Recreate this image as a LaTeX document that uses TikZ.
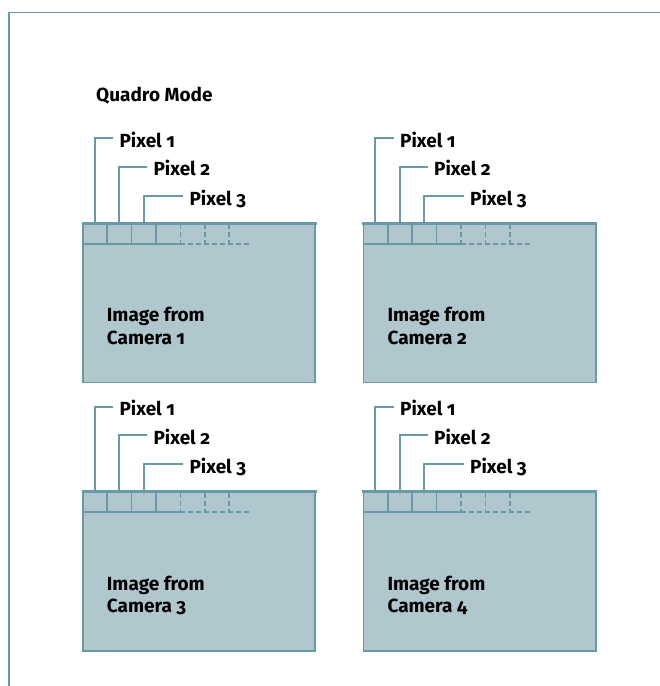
\documentclass[tikz,border=0pt]{standalone}
\usepackage{fontspec}
\setmainfont{Fira Sans}[Numbers=OldStyle]
\usepackage{xcolor}
\usepackage{tikz}
\usetikzlibrary{positioning}
\definecolor{frameblue}{RGB}{104,153,166}
\definecolor{imgfill}{RGB}{175,199,205}

\begin{document}
\begin{tikzpicture}[x=1pt, y=-1pt,
  frameline/.style={draw=frameblue, line width=1.8pt},
  imgbox/.style={fill=imgfill, draw=frameblue, line width=1.6pt},
  pixline/.style={draw=frameblue, line width=1.6pt},
  pixdash/.style={pixline, dash pattern=on 5pt off 3pt},
  leader/.style={draw=frameblue, line width=2pt},
  pixtext/.style={font=\fontsize{19}{22}\bfseries\selectfont, inner sep=0pt, anchor=base west},
  imgtext/.style={font=\fontsize{19}{22.3}\bfseries\selectfont, inner sep=0pt, anchor=base west, align=left}]
\useasboundingbox (0,0) rectangle (660,686);
% Frame
\draw[frameline] (9,686) -- (9,12.5) -- (660,12.5);
\node[pixtext] (title) at (96,101.5) {Quadro Mode};
% Panels
\foreach \i/\x/\y in {1/82.7/223.3, 2/363.3/223.3, 3/82.7/491.7, 4/363.3/491.7} {
  \draw[imgbox] (\x,\y) rectangle ++(232.5,159.3);
  \draw[frameblue, line width=2.6pt] (\x-1,\y) -- ++(235,0);
  % Pixel row
  \draw[pixline] (\x,\y+20.4) -- ++(97.5,0);
  \draw[pixdash] (\x+97.5,\y+20.4) -- ++(70,0);
  \foreach \k in {1,2,3}
    \draw[pixline] (\x+24.4*\k,\y) -- ++(0,20.4);
  \foreach \k in {4,5,6}
    \draw[pixdash] (\x+24.4*\k,\y+1) -- ++(0,19.4);
  % Pixel labels
  \foreach \k/\h/\t in {1/85/36.6, 2/56.6/70.6, 3/27.3/106.6} {
    \coordinate (cell\i-\k) at (\x-12.5+24.5*\k, \y);
    \node[pixtext] (pix\i-\k) at (\x+\t, \y-\h+9) {Pixel \k};
    \draw[leader] (cell\i-\k) |- ([xshift=-6pt, yshift=9pt]pix\i-\k.base west);
  }
  \node[imgtext] (img\i) at (\x+24,\y+120.7) {Image from\\Camera \i};
}
\end{tikzpicture}
\end{document}
